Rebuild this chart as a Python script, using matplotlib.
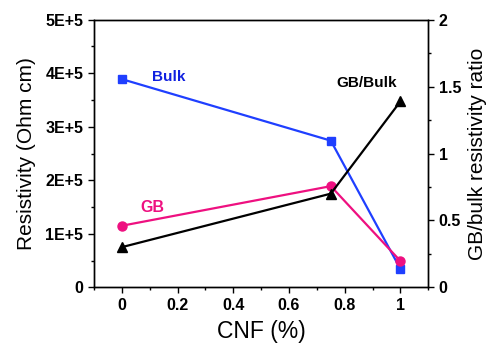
import matplotlib
matplotlib.use("Agg")
import matplotlib.pyplot as plt
from matplotlib.ticker import MultipleLocator

cnf = [0, 0.75, 1]
bulk = [3.89e5, 2.74e5, 0.34e5]
gb = [1.15e5, 1.89e5, 0.49e5]
ratio = [0.30, 0.70, 1.39]
left_ticks = [0, 1e5, 2e5, 3e5, 4e5, 5e5]
left_labels = ["0", "1E+5", "2E+5", "3E+5", "4E+5", "5E+5"]
right_ticks = [0, 0.5, 1, 1.5, 2]
right_labels = ["0", "0.5", "1", "1.5", "2"]
x_ticks = [0, 0.2, 0.4, 0.6, 0.8, 1]
x_labels = ["0", "0.2", "0.4", "0.6", "0.8", "1"]

plt.rcParams['font.family'] = ['Liberation Sans', 'DejaVu Sans']

blue = '#1F3FFF'
pink = '#EE1080'

fig = plt.figure(figsize=(4.89, 3.48), dpi=100)
ax = fig.add_axes([0.192, 0.1744, 0.684, 0.769])
ax2 = ax.twinx()

ax.plot(cnf, bulk, color=blue, lw=1.6, marker='s', ms=6, zorder=3)
ax.plot(cnf, gb, color=pink, lw=1.6, marker='o', ms=6.5, zorder=3)
ax2.plot(cnf, ratio, color='black', lw=1.6, marker='^', ms=7, zorder=3)

ax.set_xlim(-0.1, 1.1)
ax.set_ylim(0, 5e5)
ax2.set_ylim(0, 2)

ax.set_xticks(x_ticks)
ax.set_xticklabels(x_labels)
ax.set_yticks(left_ticks)
ax.set_yticklabels(left_labels)
ax2.set_yticks(right_ticks)
ax2.set_yticklabels(right_labels)
ax.xaxis.set_minor_locator(MultipleLocator(0.1))
ax.yaxis.set_minor_locator(MultipleLocator(0.5e5))
ax2.yaxis.set_minor_locator(MultipleLocator(0.25))

for a in (ax, ax2):
    a.tick_params(which='major', direction='out', length=4, width=1, labelsize=11.5)
    a.tick_params(which='minor', direction='out', length=2.5, width=1)
    for lab in a.get_xticklabels() + a.get_yticklabels():
        lab.set_fontweight('bold')
    for s in a.spines.values():
        s.set_linewidth(1)

ax.set_xlabel("CNF (%)", fontsize=16.5, labelpad=5)
ax.set_ylabel("Resistivity (Ohm cm)", fontsize=15, labelpad=7)
ax2.set_ylabel("GB/bulk resistivity ratio", fontsize=15, labelpad=5)

ax.text(0.17, 3.93e5, "Bulk", color='#1020E0', fontsize=11, fontweight='bold', ha='center', va='center')
ax.text(0.11, 1.5e5, "GB", color=pink, fontsize=11.5, fontweight='bold', ha='center', va='center')
ax2.text(0.877, 1.53, "GB/Bulk", color='black', fontsize=11, fontweight='bold', ha='center', va='center')

fig.savefig("out.png", dpi=100)
